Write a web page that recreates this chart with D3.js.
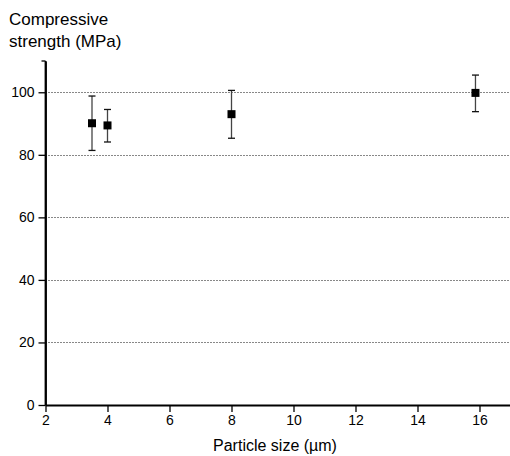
<!DOCTYPE html>
<html>
<head>
<meta charset="utf-8">
<script src="https://cdn.jsdelivr.net/npm/d3@7"></script>
<style>
  body { margin: 0; background: #fff; }
  text { font-family: "Liberation Sans", Arial, sans-serif; fill: #000; }
</style>
</head>
<body>
<div id="drawing"></div>
<script>
// data
var sizes = [3.5, 4.0, 8.0, 15.87];
var strength = [90.1, 89.4, 93.0, 99.8];
var errLow = [81.4, 84.1, 85.3, 93.8];
var errHigh = [98.8, 94.5, 100.6, 105.5];
var xTicks = [2, 4, 6, 8, 10, 12, 14, 16];
var yTicks = [0, 20, 40, 60, 80, 100];
var gridValues = [20, 40, 60, 80, 100];

var width = 510;
var height = 456;

var svg = d3.select("#drawing").append("svg")
  .attr("width", width)
  .attr("height", height);

var xScale = d3.scaleLinear().domain([2, 17]).range([45.5, 510.5]);
var yScale = d3.scaleLinear().domain([0, 110]).range([405, 61]);

// dotted gridlines
svg.selectAll(".grid")
  .data(gridValues)
  .enter().append("line")
  .attr("class", "grid")
  .attr("x1", xScale(2))
  .attr("x2", width)
  .attr("y1", (d) => Math.round(yScale(d)) + 0.5)
  .attr("y2", (d) => Math.round(yScale(d)) + 0.5)
  .style("stroke", "#111")
  .style("stroke-width", 1)
  .style("stroke-dasharray", "1,2");

// x axis: major ticks every 2, minor every 1
var xAxisG = svg.append("g").attr("transform", "translate(0,405)");
xAxisG.call(d3.axisBottom(xScale).tickValues(d3.range(3, 17, 2)).tickSize(4).tickFormat(""));
xAxisG.call(d3.axisBottom(xScale).tickValues(xTicks).tickSize(7).tickSizeOuter(0).tickPadding(3));
xAxisG.selectAll("text").style("font-size", "14px");

// y axis: major ticks every 20, minor every 10
var yAxisG = svg.append("g").attr("transform", "translate(45.5,0)");
yAxisG.call(d3.axisLeft(yScale).tickValues(d3.range(10, 110, 20)).tickSize(4).tickFormat(""));
yAxisG.call(d3.axisLeft(yScale).tickValues(yTicks).tickSize(7).tickSizeOuter(0).tickPadding(4));
yAxisG.selectAll("text").style("font-size", "14px");

svg.selectAll(".domain").style("stroke", "#000").style("stroke-width", 1.8);
svg.selectAll(".tick line").style("stroke", "#000").style("stroke-width", 1.3);
// extend y axis line to top (110)
yAxisG.append("line")
  .attr("x1", 0).attr("x2", 0)
  .attr("y1", yScale(110)).attr("y2", yScale(0))
  .style("stroke", "#000").style("stroke-width", 1.8);
yAxisG.append("line")
  .attr("x1", -4).attr("x2", 0)
  .attr("y1", yScale(110)).attr("y2", yScale(110))
  .style("stroke", "#000").style("stroke-width", 1.3);

// error bars
var pts = sizes.map((s, i) => ({x: s, y: strength[i], lo: errLow[i], hi: errHigh[i]}));
var bars = svg.selectAll(".err").data(pts).enter().append("g").attr("class", "err");
bars.append("line")
  .attr("x1", (d) => xScale(d.x)).attr("x2", (d) => xScale(d.x))
  .attr("y1", (d) => yScale(d.lo)).attr("y2", (d) => yScale(d.hi))
  .style("stroke", "#444").style("stroke-width", 1.3);
["lo", "hi"].forEach(function(k) {
  bars.append("line")
    .attr("x1", (d) => xScale(d.x) - 3.5).attr("x2", (d) => xScale(d.x) + 3.5)
    .attr("y1", (d) => yScale(d[k])).attr("y2", (d) => yScale(d[k]))
    .style("stroke", "#111").style("stroke-width", 1.3);
});

// square markers
svg.selectAll(".pt").data(pts).enter().append("rect")
  .attr("class", "pt")
  .attr("x", (d) => xScale(d.x) - 4)
  .attr("y", (d) => yScale(d.y) - 4)
  .attr("width", 8).attr("height", 8)
  .style("fill", "#000");

// titles
var yTitle = svg.append("text").attr("x", 9).attr("y", 25).style("font-size", "17px");
yTitle.append("tspan").attr("x", 9).text("Compressive");
yTitle.append("tspan").attr("x", 9).attr("dy", 22).text("strength (MPa)");

svg.append("text")
  .attr("x", 275).attr("y", 451)
  .attr("text-anchor", "middle")
  .style("font-size", "16px")
  .text("Particle size (\u00b5m)");
</script>
</body>
</html>
